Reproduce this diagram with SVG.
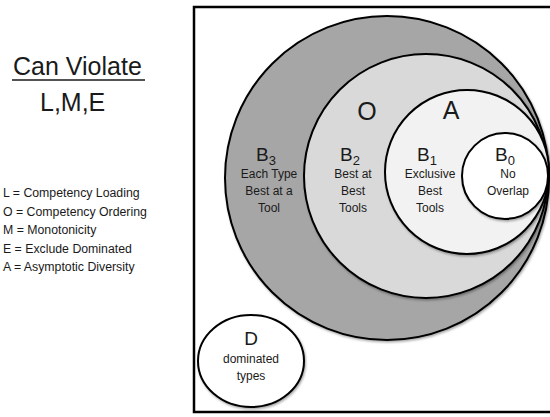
<svg xmlns="http://www.w3.org/2000/svg" width="550" height="417" viewBox="0 0 550 417">
<style>
text{font-family:"Liberation Sans",Arial,sans-serif;fill:#1a1a1a}
.big{font-size:25px}
.leg{font-size:12.3px}
.b{font-size:19px;text-anchor:middle}
.sub{font-size:13px}
.lbl{font-size:12px;text-anchor:middle}
.c{stroke:#000;stroke-width:2;filter:url(#sh)}
</style>
<defs>
<filter id="sh" x="-10%" y="-10%" width="120%" height="120%">
<feDropShadow dx="1" dy="1.5" stdDeviation="1.2" flood-color="#000" flood-opacity="0.35"/>
</filter>
</defs>
<rect width="550" height="417" fill="#fff"/>
<g id="title">
<text class="big" x="13" y="75">Can Violate</text>
<line x1="12" y1="80" x2="145" y2="80" stroke="#1a1a1a" stroke-width="1.6"/>
<text class="big" x="40" y="111">L,M,E</text>
</g>
<g id="legend" class="leg">
<text class="leg" x="3" y="197">L = Competency Loading</text>
<text class="leg" x="3" y="215.5">O = Competency Ordering</text>
<text class="leg" x="3" y="234">M = Monotonicity</text>
<text class="leg" x="3" y="252.5">E = Exclude Dominated</text>
<text class="leg" x="3" y="271">A = Asymptotic Diversity</text>
</g>
<rect id="frame" x="194" y="7" width="360" height="405" fill="none" stroke="#000" stroke-width="2.5"/>
<g id="B3">
<circle class="c" cx="387" cy="178" r="162" fill="#a6a6a6"/>
<text class="b" x="266" y="161">B<tspan class="sub" dy="4">3</tspan></text>
<text class="lbl" x="269" y="178">Each Type</text>
<text class="lbl" x="269" y="195">Best at a</text>
<text class="lbl" x="269" y="212">Tool</text>
</g>
<g id="B2">
<circle class="c" cx="426" cy="176" r="122" fill="#d9d9d9"/>
<text class="big" x="367" y="120" text-anchor="middle">O</text>
<text class="b" x="350" y="161">B<tspan class="sub" dy="4">2</tspan></text>
<text class="lbl" x="353" y="178">Best at</text>
<text class="lbl" x="353" y="195">Best</text>
<text class="lbl" x="353" y="212">Tools</text>
</g>
<g id="B1">
<circle class="c" cx="467" cy="172" r="82" fill="#f2f2f2"/>
<text class="big" x="451" y="119" text-anchor="middle">A</text>
<text class="b" x="427" y="161">B<tspan class="sub" dy="4">1</tspan></text>
<text class="lbl" x="430" y="178">Exclusive</text>
<text class="lbl" x="430" y="195">Best</text>
<text class="lbl" x="430" y="212">Tools</text>
</g>
<g id="B0">
<circle class="c" cx="505" cy="176" r="43" fill="#fff"/>
<text class="b" x="505" y="161">B<tspan class="sub" dy="4">0</tspan></text>
<text class="lbl" x="508" y="178">No</text>
<text class="lbl" x="508" y="195">Overlap</text>
</g>
<g id="D">
<ellipse class="c" cx="251" cy="361" rx="53" ry="46" fill="#fff"/>
<text class="b" x="251" y="345">D</text>
<text class="lbl" x="251" y="363">dominated</text>
<text class="lbl" x="251" y="380">types</text>
</g>
<g id="connectors"/>
</svg>
